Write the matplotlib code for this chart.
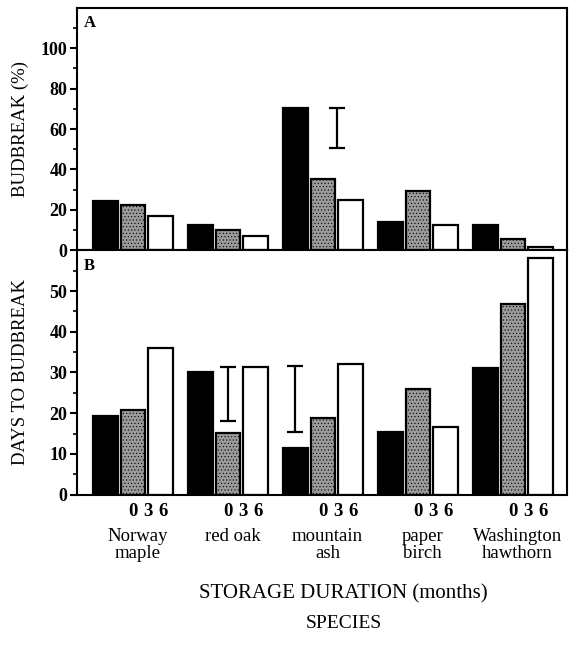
import matplotlib.pyplot as plt
import numpy as np

plt.rcParams['font.family'] = ['Liberation Serif', 'DejaVu Serif']
plt.rcParams['hatch.linewidth'] = 0.4

# data
species = ['Norway\nmaple', 'red oak', 'mountain\nash', 'paper\nbirch', 'Washington\nhawthorn']
months = ['0', '3', '6']

budbreak_0 = [24.5, 12.5, 70.5, 14.0, 12.5]
budbreak_3 = [22.5, 10.0, 35.5, 29.5, 5.5]
budbreak_6 = [17.0, 7.0, 25.0, 12.5, 1.5]

days_0 = [19.2, 30.2, 11.5, 15.5, 31.2]
days_3 = [20.9, 15.2, 18.9, 26.0, 46.7]
days_6 = [35.9, 31.4, 32.2, 16.7, 58.0]

# LSD-type bars: (x position, low, high)
err_a = [(2.15, 50.5, 70.5)]
err_b = [(1.0, 18.0, 31.4), (1.71, 15.5, 31.7)]

x = np.arange(len(species))
step = 0.29
width = 0.26
styles = [dict(color='black', edgecolor='black'),
          dict(color='#9a9a9a', edgecolor='black', hatch='.....'),
          dict(color='white', edgecolor='black')]

fig = plt.figure(figsize=(5.78, 6.45), dpi=100)
axA = fig.add_axes([0.133, 0.612, 0.848, 0.376])
axB = fig.add_axes([0.133, 0.233, 0.848, 0.379])


def draw(ax, series, errs, ymax, major, minor, label, letter):
    for i, vals in enumerate(series):
        ax.bar(x + (i - 1) * step, vals, width, linewidth=1.6, **styles[i])
    for xe, lo, hi in errs:
        ax.errorbar(xe, (lo + hi) / 2, yerr=(hi - lo) / 2, color='black',
                    capsize=6, elinewidth=1.6, capthick=1.6)
    ax.set_xlim(-0.59, 4.57)
    ax.set_ylim(0, ymax)
    ax.set_yticks(np.arange(0, ymax, major))
    ax.set_yticks(np.arange(minor, ymax, major), minor=True)
    ax.tick_params(axis='y', which='major', length=5, width=1.5, labelsize=13, pad=2)
    ax.tick_params(axis='y', which='minor', length=3, width=1.2)
    for t in ax.get_yticklabels():
        t.set_fontweight('bold')
    ax.set_ylabel(label, fontsize=13.5)
    ax.yaxis.set_label_coords(-0.097, 0.5)
    for s in ax.spines.values():
        s.set_linewidth(1.5)
    ax.text(0.015, 0.97, letter, transform=ax.transAxes, fontsize=12,
            fontweight='bold', va='top', ha='left')


draw(axA, [budbreak_0, budbreak_3, budbreak_6], err_a, 120, 20, 10,
     'BUDBREAK (%)', 'A')
axA.set_xticks([])

draw(axB, [days_0, days_3, days_6], err_b, 60, 10, 5,
     'DAYS TO BUDBREAK', 'B')

# storage duration labels under each group, species names below
pos = np.concatenate([x + k * 0.16 for k in range(3)])
labs = [m for m in months for _ in x]
axB.set_xticks(pos)
axB.set_xticklabels(labs, fontsize=13.5, fontweight='bold')
axB.tick_params(axis='x', length=0, pad=6)
for xi, name in zip(x, species):
    axB.text(xi + 0.05, -0.135, name, transform=axB.get_xaxis_transform(),
             ha='center', va='top', fontsize=13.5, linespacing=1.0)

fig.text(0.594, 0.079, 'STORAGE DURATION (months)', fontsize=15, ha='center', va='center')
fig.text(0.595, 0.033, 'SPECIES', fontsize=14, ha='center', va='center')

fig.savefig('out.png', dpi=100)
